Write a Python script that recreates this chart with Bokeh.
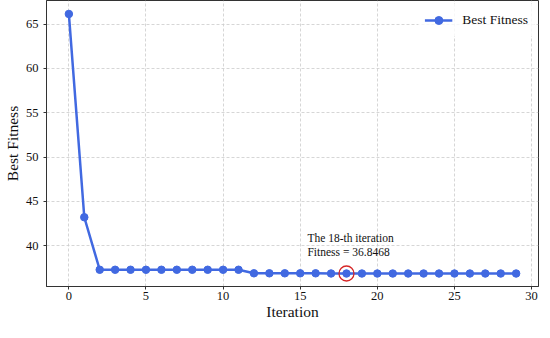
from bokeh.plotting import figure
from bokeh.models import Range1d, FixedTicker, Label
from bokeh.embed import file_html
from bokeh.resources import INLINE

iterations = list(range(30))
fitness = [66.15, 43.20, 37.27, 37.27, 37.27, 37.27, 37.27, 37.27, 37.27, 37.27,
           37.27, 37.27, 36.87, 36.87, 36.87, 36.87, 36.87, 36.85, 36.8468, 36.8468,
           36.8468, 36.8468, 36.8468, 36.8468, 36.8468, 36.8468, 36.8468, 36.8468,
           36.8468, 36.8468]
x_ticks = [0, 5, 10, 15, 20, 25, 30]
y_ticks = [40, 45, 50, 55, 60, 65]
best_iter = 18
best_val = fitness[best_iter]
series_label = "Best Fitness"
x_title = "Iteration"
y_title = "Best Fitness"

FONT = "Liberation Serif"
BLUE = "#4169E1"

p = figure(frame_width=492, frame_height=286, output_backend="svg", toolbar_location=None,
           x_range=Range1d(-1.45, 30.45), y_range=Range1d(35.38, 67.67),
           min_border_left=0, min_border_right=2, min_border_top=0, min_border_bottom=0)

p.line(iterations, fitness, line_color=BLUE, line_width=2.5, legend_label=series_label)
p.scatter(iterations, fitness, size=7.5, fill_color=BLUE, line_color=BLUE, legend_label=series_label)

p.scatter([best_iter], [best_val], size=15, marker="circle", fill_color=None,
          line_color="#d62728", line_width=1.3)

ann = Label(x=best_iter - 2.53, y=best_val + 1.75,
            text="The %d-th iteration\nFitness = %.4f" % (best_iter, best_val),
            text_font=FONT, text_font_size="11.5px", text_color="#111111",
            text_line_height=1.15)
p.add_layout(ann)

p.xaxis.ticker = FixedTicker(ticks=x_ticks)
p.yaxis.ticker = FixedTicker(ticks=y_ticks)
p.xaxis.axis_label = x_title
p.yaxis.axis_label = y_title
for ax in (p.xaxis, p.yaxis):
    ax.axis_label_text_font = FONT
    ax.axis_label_text_font_size = "15.5px"
    ax.axis_label_text_font_style = "normal"
    ax.axis_label_text_color = "#111111"
    ax.major_label_text_font = FONT
    ax.major_label_text_font_size = "12.5px"
    ax.major_label_text_color = "#111111"
    ax.major_tick_out = 3
    ax.major_tick_in = 0
    ax.minor_tick_line_color = None
    ax.axis_line_color = "#333333"
    ax.major_tick_line_color = "#333333"
p.xaxis.major_label_standoff = 2
p.xaxis.axis_label_standoff = 0
p.yaxis.major_label_standoff = 5
p.yaxis.axis_label_standoff = 2

p.outline_line_color = "#333333"
p.outline_line_width = 1
p.outline_line_alpha = 1

p.grid.grid_line_color = "#cccccc"
p.grid.grid_line_dash = "3 2"
p.grid.grid_line_width = 0.8

p.legend.location = "top_right"
p.legend.border_line_alpha = 0
p.legend.background_fill_alpha = 0.8
p.legend.label_text_font = FONT
p.legend.label_text_font_size = "13.5px"
p.legend.label_text_color = "#111111"
p.legend.glyph_width = 28
p.legend.label_standoff = 10
p.legend.margin = 4
p.legend.padding = 6

open("out.html", "w").write(file_html(p, INLINE))
